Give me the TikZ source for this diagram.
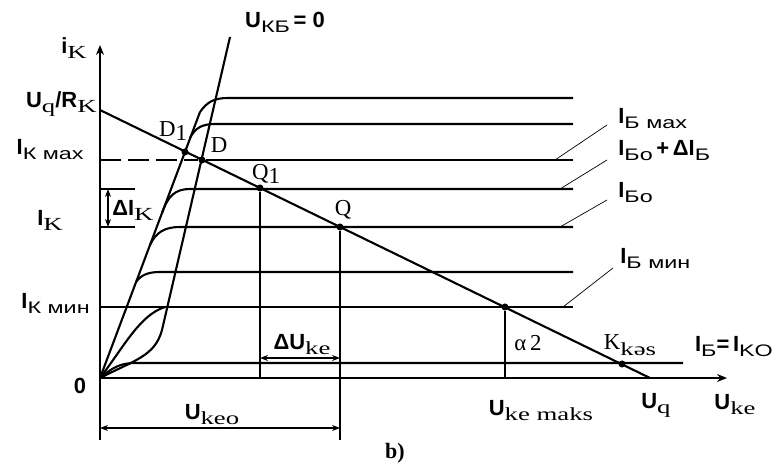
\documentclass[tikz,border=0pt]{standalone}
\usepackage{fontspec}
\usepackage{graphicx}
\setmainfont{Liberation Serif}
\setsansfont{Liberation Sans}
\usetikzlibrary{arrows.meta}
\newcommand{\bs}[1]{{\sffamily\bfseries #1}}
\newcommand{\dn}[1]{\raisebox{-0.5ex}{\scalebox{1.45}[1]{\fontsize{10.5}{10}\selectfont #1}}}
\newcommand{\dns}[1]{\raisebox{-0.5ex}{\scalebox{1.4}[1]{\sffamily\fontsize{9.5}{10}\selectfont #1}}}

\begin{document}
\begin{tikzpicture}[x=0.02cm,y=-0.02cm,
  charline/.style={line width=1.2pt},
  guide/.style={line width=0.7pt},
  lead/.style={line width=0.4pt},
  axis/.style={line width=0.9pt,-{Stealth[length=2mm,width=1.6mm]}},
  dimarrow/.style={line width=0.6pt,{Stealth[length=1.6mm,width=1.2mm]}-{Stealth[length=1.6mm,width=1.2mm]}},
  pnt/.style={circle,fill,inner sep=0pt,minimum size=4pt},
  lbl/.style={font=\fontsize{12.5}{14}\selectfont,inner sep=0pt},
  ptlbl/.style={font=\fontsize{13}{14}\selectfont,inner sep=0pt}
]
\useasboundingbox (0,0) rectangle (778,466);
\coordinate (O) at (100,378);
\coordinate (ytop) at (100,45);
\coordinate (ybot) at (100,440);
\coordinate (xend) at (727,378);
\coordinate (UqRk) at (100,110);
\coordinate (Uq) at (650,378);
\coordinate (kb) at (230,37);

\draw[axis] (ybot) -- (ytop);
\draw[axis] (O) -- (xend);

\draw[charline] (O) .. controls (112,368) and (120,363) .. (135,363) -- (683,363);
\draw[charline] (O) .. controls (135,360) and (155,356) .. (162,330) -- (kb);
\draw[charline] (O) .. controls (125,345) and (140,315) .. (165,307);
\draw[charline] (O) -- (200,112);
\draw[charline] (136,282) .. controls (141,275) and (148,272) .. (160,272) -- (573,272);
\draw[charline] (150,245) .. controls (156,232) and (165,227) .. (180,227) -- (573,227);
\draw[charline] (162,213) .. controls (168,196) and (175,189) .. (190,189) -- (573,189);
\draw[charline] (190,138) .. controls (195,128) and (202,124) .. (215,124) -- (573,124);
\draw[charline] (200,112) .. controls (207,102) and (214,98) .. (228,98) -- (573,98);
\draw[charline] (100,307) -- (573,307);

\draw[charline] (UqRk) -- (Uq);

\node[pnt] (d1) at (185,152) {};
\node[pnt] (d) at (202,160) {};
\node[pnt] (q1) at (260,188) {};
\node[pnt] (q) at (340,227) {};
\node[pnt] (a2) at (505,307) {};
\node[pnt] (kk) at (622,364) {};

\draw[guide,dashed,dash pattern=on 12pt off 4pt] (100,160) -- (d);
\draw[charline] (d) -- (573,160);
\draw[guide] (100,189) -- (135,189);
\draw[guide] (100,227) -- (135,227);
\draw[guide] (q1) -- (260,378);
\draw[guide] (q) -- (340,440);
\draw[guide] (a2) -- (505,378);

\draw[dimarrow] (108,189) -- (108,227);
\draw[dimarrow] (260,358) -- (340,358);
\draw[dimarrow] (100,428) -- (340,428);

\node[lbl,anchor=west] (ibmax) at (618,119) {\bs{I}\dns{Б мах}};
\node[lbl,anchor=west] (ibdi) at (618,151) {\bs{I}\dns{Бо}\,\bs{+\,ΔI}\dns{Б}};
\node[lbl,anchor=west] (ibo) at (618,193) {\bs{I}\dns{Бо}};
\node[lbl,anchor=west] (ibmin) at (620,258) {\bs{I}\dns{Б мин}};
\draw[lead] (607,125) -- (555,160);
\draw[lead] (607,160) -- (560,189);
\draw[lead] (607,200) -- (560,227);
\draw[lead] (613,268) -- (563,307);

\node[lbl] (ik) at (74,48) {\bs{i}\dn{K}};
\node[lbl,anchor=east] (uqrk) at (97,104) {\bs{U}\dn{q}\bs{/R}\dn{K}};
\node[lbl,anchor=east] (ikmax) at (84,150) {\bs{I}\dns{К мах}};
\node[lbl] (iklab) at (50,220) {\bs{I}\dn{K}};
\node[lbl,anchor=west] (dik) at (112,210) {\bs{ΔI}\dn{K}};
\node[lbl,anchor=east] (ikmin) at (90,303) {\bs{I}\dns{К мин}};
\node[lbl] (zero) at (80,386) {\bs{0}};
\node[lbl] (ukb) at (285,22) {\bs{U}\dns{КБ}\,\bs{= 0}};

\node[ptlbl] (d1lab) at (173,131) {D\raisebox{-0.4ex}{1}};
\node[ptlbl] (dlab) at (219,145) {D};
\node[ptlbl] (q1lab) at (266,174) {Q\raisebox{-0.4ex}{1}};
\node[ptlbl] (qlab) at (343,210) {Q};
\node[ptlbl] (a2lab) at (528,343) {α\,2};
\node[ptlbl] (kklab) at (630,345) {K\dn{kəs}};
\node[lbl] (ibiko) at (734,347) {\bs{I}\dns{Б}\bs{=\,I}\dns{KO}};

\node[lbl] (duke) at (302,345) {\bs{ΔU}\dn{ke}};
\node[lbl] (ukeo) at (212,415) {\bs{U}\dn{keo}};
\node[lbl] (ukem) at (541,411) {\bs{U}\dn{ke maks}};
\node[lbl] (uq) at (656,405) {\bs{U}\dn{q}};
\node[lbl] (uke) at (735,405) {\bs{U}\dn{ke}};
\node[lbl] (bl) at (395,453) {\textbf{b)}};
\end{tikzpicture}
\end{document}
